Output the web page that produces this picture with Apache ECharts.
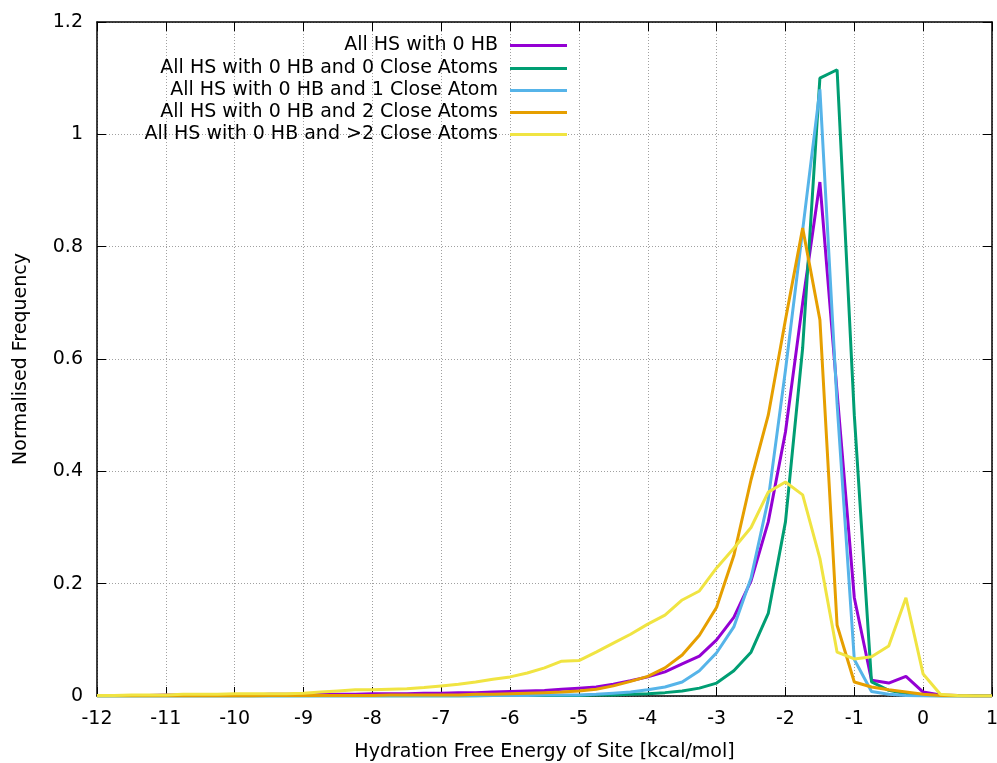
<!DOCTYPE html>
<html>
<head>
<meta charset="utf-8">
<script src="https://cdn.jsdelivr.net/npm/echarts@6/dist/echarts.min.js"></script>
<style>html,body{margin:0;padding:0;background:#fff;}#c{width:997px;height:763px;}</style>
</head>
<body>
<div id="c"></div>
<script>
const energy = [-12,-11.75,-11.5,-11.25,-11,-10.75,-10.5,-10.25,-10,-9.75,-9.5,-9.25,-9,-8.75,-8.5,-8.25,-8,-7.75,-7.5,-7.25,-7,-6.75,-6.5,-6.25,-6,-5.75,-5.5,-5.25,-5,-4.75,-4.5,-4.25,-4,-3.75,-3.5,-3.25,-3,-2.75,-2.5,-2.25,-2,-1.75,-1.5,-1.25,-1,-0.75,-0.5,-0.25,0,0.25,0.5,0.75,1];

const seriesNames = [
  'All HS with 0 HB',
  'All HS with 0 HB and 0 Close Atoms',
  'All HS with 0 HB and 1 Close Atom',
  'All HS with 0 HB and 2 Close Atoms',
  'All HS with 0 HB and >2 Close Atoms'
];
const seriesColors = ['#9400d3','#009e73','#56b4e9','#e69f00','#f0e442'];

const hb0 = [0.001,0.001,0.001,0.001,0.002,0.002,0.002,0.002,0.002,0.002,0.003,0.003,
  0.003,0.003,0.003,0.003,0.004,0.004,0.004,0.005,
  0.005,0.006,0.006,0.007,0.008,0.009,0.010,0.012,
  0.014,0.016,0.021,0.027,0.034,0.043,0.057,0.071,0.100,0.140,0.205,0.310,0.470,0.700,0.915,0.540,0.175,0.028,0.023,0.035,0.007,0.002,0.001,0,0];
const close0 = [0,0,0,0,0,0,0,0,0,0,0,0,
  0,0,0,0,0,0,0,0,
  0,0,0,0.001,0.001,0.001,0.001,0.001,
  0.001,0.002,0.002,0.003,0.004,0.006,0.009,0.014,0.023,0.045,0.078,0.147,0.310,0.620,1.100,1.115,0.500,0.025,0.010,0.004,0.001,0,0,0,0];
const close1 = [0,0,0,0,0,0,0,0,0,0,0,0,
  0,0,0,0,0,0,0,0,
  0,0,0.001,0.001,0.001,0.001,0.002,0.002,
  0.002,0.003,0.005,0.007,0.011,0.016,0.025,0.045,0.077,0.123,0.210,0.350,0.580,0.830,1.080,0.520,0.065,0.008,0.003,0.001,0,0,0,0,0];
const close2 = [0,0,0,0,0,0,0,0,0,0,0.001,0.001,
  0.001,0.001,0.001,0.001,0.001,0.002,0.002,0.002,
  0.002,0.002,0.003,0.003,0.004,0.005,0.006,0.007,
  0.009,0.012,0.018,0.026,0.035,0.050,0.073,0.108,0.158,0.250,0.385,0.500,0.670,0.833,0.670,0.126,0.025,0.016,0.011,0.007,0.003,0.001,0,0,0];
const closeMore = [0.001,0.001,0.002,0.002,0.002,0.003,0.003,0.003,0.004,0.004,0.004,0.004,
  0.005,0.007,0.009,0.011,0.011,0.012,0.013,0.015,
  0.018,0.021,0.025,0.030,0.034,0.041,0.050,0.062,
  0.063,0.078,0.094,0.110,0.128,0.144,0.171,0.187,0.228,0.263,0.300,0.363,0.381,0.358,0.245,0.078,0.066,0.070,0.089,0.175,0.039,0.003,0.001,0,0];

const allValues = [hb0, close0, close1, close2, closeMore];

const FONT = 'DejaVu Sans';
const FS = 19;
const chart = echarts.init(document.getElementById('c'), null, {renderer: 'canvas'});

const legendRowsTop = [36, 59, 81, 103, 125];
const legends = seriesNames.map((n, i) => ({
  data: [n],
  right: 430,
  top: legendRowsTop[i],
  padding: 0,
  orient: 'vertical',
  align: 'right',
  icon: 'rect',
  itemWidth: 57,
  itemHeight: 3,
  itemGap: 0,
  selectedMode: false,
  textStyle: {fontFamily: FONT, fontSize: FS, color: '#000', padding: [0, 7, 0, 0]}
}));

const axisLineStyle = {show: true, onZero: false, lineStyle: {color: '#000', width: 1.5}};
const gridLine = {show: true, lineStyle: {color: '#a0a0a0', type: [1, 2], width: 1}};
const tickStyle = {show: true, inside: true, length: 9, lineStyle: {color: '#000', width: 1}};

chart.setOption({
  animation: false,
  backgroundColor: '#fff',
  grid: {left: 97, right: 5, top: 22, bottom: 67, containLabel: false, outerBoundsMode: 'none'},
  legend: legends,
  xAxis: [{
    type: 'value', min: -12, max: 1, interval: 1,
    name: 'Hydration Free Energy of Site [kcal/mol]',
    nameLocation: 'middle', nameGap: 47,
    nameTextStyle: {fontFamily: FONT, fontSize: FS, color: '#000'},
    axisLine: axisLineStyle,
    axisTick: tickStyle,
    axisLabel: {fontFamily: FONT, fontSize: FS, color: '#000', margin: 14},
    splitLine: gridLine
  }, {
    type: 'value', min: -12, max: 1, interval: 1, position: 'top',
    axisLine: axisLineStyle,
    axisTick: tickStyle,
    axisLabel: {show: false}, splitLine: {show: false}
  }],
  yAxis: [{
    type: 'value', min: 0, max: 1.2, interval: 0.2,
    name: 'Normalised Frequency',
    nameLocation: 'middle', nameGap: 66,
    nameTextStyle: {fontFamily: FONT, fontSize: FS, color: '#000'},
    axisLine: axisLineStyle,
    axisTick: tickStyle,
    axisLabel: {fontFamily: FONT, fontSize: FS, color: '#000', margin: 14},
    splitLine: gridLine
  }, {
    type: 'value', min: 0, max: 1.2, interval: 0.2, position: 'right',
    axisLine: axisLineStyle,
    axisTick: tickStyle,
    axisLabel: {show: false}, splitLine: {show: false}
  }],
  series: seriesNames.map((n, i) => ({
    name: n,
    type: 'line',
    xAxisIndex: 0, yAxisIndex: 0,
    showSymbol: false,
    symbol: 'none',
    color: seriesColors[i],
    lineStyle: {color: seriesColors[i], width: 3},
    data: energy.map((x, k) => [x, allValues[i][k]]),
    z: 2 + i
  }))
});
</script>
</body>
</html>
